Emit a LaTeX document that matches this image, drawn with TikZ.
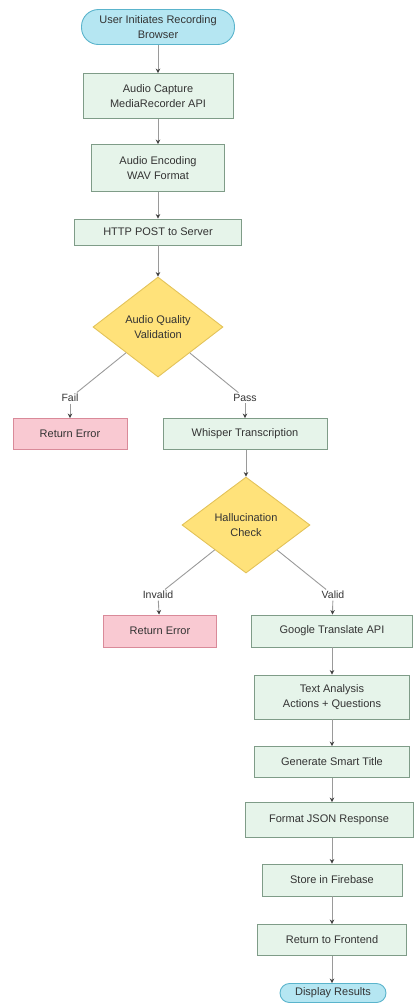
\documentclass[tikz,border=0pt]{standalone}
\usepackage{fontspec}
\setmainfont{Liberation Sans}
\usetikzlibrary{shapes.geometric,arrows.meta}
\definecolor{termfill}{HTML}{B5E6F2}
\definecolor{termdraw}{HTML}{5AB4CC}
\definecolor{procfill}{HTML}{E6F4EA}
\definecolor{procdraw}{HTML}{7F9C88}
\definecolor{decfill}{HTML}{FFE27A}
\definecolor{decdraw}{HTML}{E3C35A}
\definecolor{errfill}{HTML}{F9C9D2}
\definecolor{errdraw}{HTML}{D98A99}
\definecolor{edgecol}{HTML}{9A9A9A}
\definecolor{txtcol}{HTML}{333333}
\tikzset{
  base/.style={font=\fontsize{11}{15}\selectfont, text=txtcol, align=center, inner sep=2pt, line width=0.9pt},
  term/.style={base, rectangle, rounded corners=#1, fill=termfill, draw=termdraw},
  proc/.style={base, rectangle, fill=procfill, draw=procdraw},
  errbox/.style={base, rectangle, fill=errfill, draw=errdraw},
  dec/.style={base, diamond, fill=decfill, draw=decdraw, inner sep=0pt},
  lbl/.style={font=\fontsize{10.5}{12}\selectfont, text=txtcol, fill=white, inner sep=1.5pt},
  edge/.style={draw=edgecol, line width=0.9pt},
  arr/.style={edge, -{Stealth[length=4.5pt,width=4.5pt,color=black!75]}}
}
\begin{document}
\begin{tikzpicture}[x=1pt,y=-1pt]
\useasboundingbox (0,0) rectangle (415,1005);
\node[term=17pt, minimum width=153pt, minimum height=35pt] (start) at (158,27) {User Initiates Recording\\Browser};
\node[proc, minimum width=150pt, minimum height=45pt] (cap) at (158,96) {Audio Capture\\MediaRecorder API};
\node[proc, minimum width=133pt, minimum height=47pt] (enc) at (158,168) {Audio Encoding\\WAV Format};
\node[proc, minimum width=167pt, minimum height=26pt] (post) at (158,232) {HTTP POST to Server};
\node[dec, minimum width=130pt, minimum height=100pt] (q1) at (158,327) {Audio Quality\\Validation};
\node[errbox, minimum width=114pt, minimum height=31pt] (err1) at (70,434) {Return Error};
\node[proc, minimum width=164pt, minimum height=31pt] (wh) at (245,434) {Whisper Transcription};
\node[dec, minimum width=128pt, minimum height=96pt] (q2) at (246,525) {Hallucination\\Check};
\node[errbox, minimum width=113pt, minimum height=32pt] (err2) at (160,631) {Return Error};
\node[proc, minimum width=161pt, minimum height=32pt] (gt) at (332,631) {Google Translate API};
\node[proc, minimum width=155pt, minimum height=44pt] (ta) at (332,697) {Text Analysis\\Actions + Questions};
\node[proc, minimum width=155pt, minimum height=31pt] (gst) at (332,762) {Generate Smart Title};
\node[proc, minimum width=168pt, minimum height=35pt] (json) at (329,820) {Format JSON Response};
\node[proc, minimum width=140pt, minimum height=32pt] (fb) at (332,880) {Store in Firebase};
\node[proc, minimum width=149pt, minimum height=31pt] (fe) at (332,940) {Return to Frontend};
\node[term=9.5pt, minimum width=106pt, minimum height=19pt, inner sep=1pt] (end) at (333,993) {Display Results};
\coordinate (col) at (332,0);

\node[lbl] (fail) at (70,398) {Fail};
\node[lbl] (pass) at (245,398) {Pass};
\node[lbl] (inval) at (158,595) {Invalid};
\node[lbl] (valid) at (333,595) {Valid};

\draw[arr] (start) -- (cap);
\draw[arr] (cap) -- (enc);
\draw[arr] (enc) -- (post);
\draw[arr] (post) -- (q1);
\draw[edge] (q1) -- (fail);
\draw[arr] (fail) -- (err1);
\draw[edge] (q1) -- (pass);
\draw[arr] (pass) -- (wh);
\draw[arr] (wh.south -| q2) -- (q2);
\draw[edge] (q2) -- (inval);
\draw[arr] (inval) -- (err2);
\draw[edge] (q2) -- (valid);
\draw[arr] (valid) -- (gt);
\draw[arr] (gt) -- (ta);
\draw[arr] (ta) -- (gst);
\draw[arr] (gst.south -| col) -- (json.north -| col);
\draw[arr] (json.south -| col) -- (fb.north -| col);
\draw[arr] (fb) -- (fe);
\draw[arr] (fe.south -| col) -- (end.north -| col);
\end{tikzpicture}
\end{document}
